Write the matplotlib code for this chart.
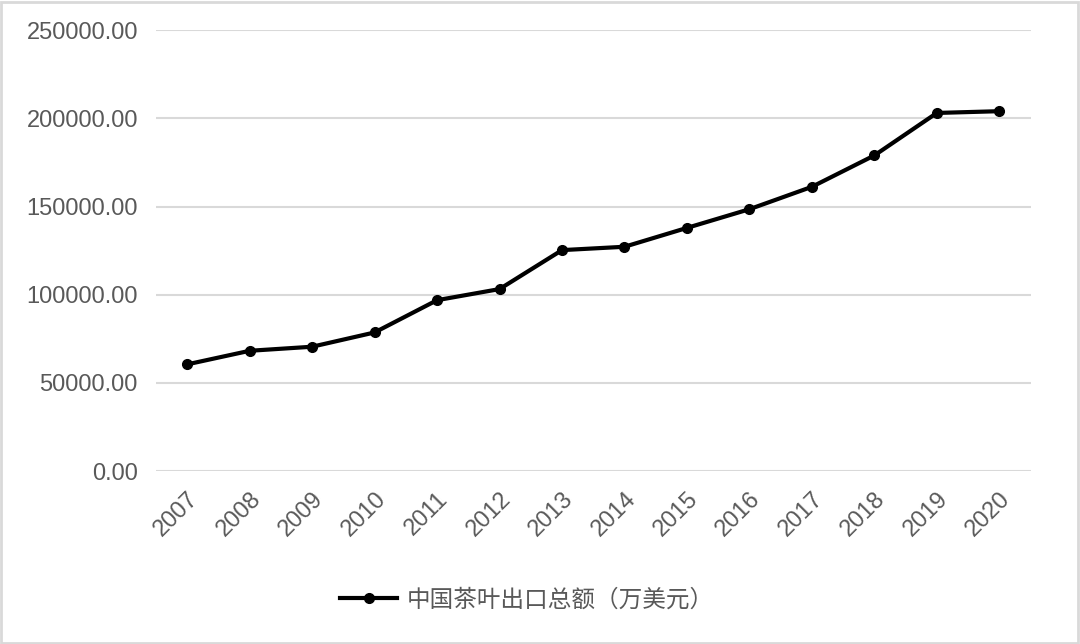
import matplotlib
matplotlib.use("Agg")
import matplotlib.pyplot as plt
from matplotlib.patches import Rectangle

plt.rcParams["font.family"] = ["Liberation Sans", "Noto Sans CJK SC", "DejaVu Sans"]

years = ["2007", "2008", "2009", "2010", "2011", "2012", "2013",
         "2014", "2015", "2016", "2017", "2018", "2019", "2020"]
export_total = [60500, 68200, 70500, 78600, 96900, 103200, 125300,
                127200, 137900, 148500, 161200, 179000, 203100, 204100]
series_label = "中国茶叶出口总额（万美元）"

GRAY = "#595959"
FS = 17

fig = plt.figure(figsize=(10.8, 6.44), dpi=100)
ax = fig.add_axes([0.1444, 0.2686, 0.8098, 0.6844])

x = list(range(len(years)))
ax.plot(x, export_total, color="black", linewidth=3, marker="o", markersize=7,
        label=series_label, zorder=3)

ax.set_xlim(-0.5, len(years) - 0.5)
ax.set_ylim(0, 250000)
ax.set_yticks([0, 50000, 100000, 150000, 200000, 250000])
ax.set_yticklabels([f"{v:.2f}" for v in ax.get_yticks()])
ax.set_xticks(x)
ax.set_xticklabels(years, rotation=45, ha="right", rotation_mode="anchor")
ax.tick_params(axis="both", length=0, colors=GRAY, labelsize=FS)
ax.tick_params(axis="y", pad=13)
ax.tick_params(axis="x", pad=12)
ax.grid(axis="y", color="#d9d9d9", linewidth=1.5)
ax.set_axisbelow(True)
for s in ax.spines.values():
    s.set_visible(False)

leg = fig.legend(loc="center", bbox_to_anchor=(0.488, 0.068), frameon=False,
                 handlelength=2.4, handletextpad=0.4,
                 prop={"family": ["Noto Sans CJK SC", "DejaVu Sans"], "size": FS})
for t in leg.get_texts():
    t.set_color(GRAY)

fig.patches.append(Rectangle((0.001, 0.001), 0.997, 0.996, transform=fig.transFigure,
                             fill=False, edgecolor="#d9d9d9", linewidth=2))

fig.savefig("out.png", dpi=100)
